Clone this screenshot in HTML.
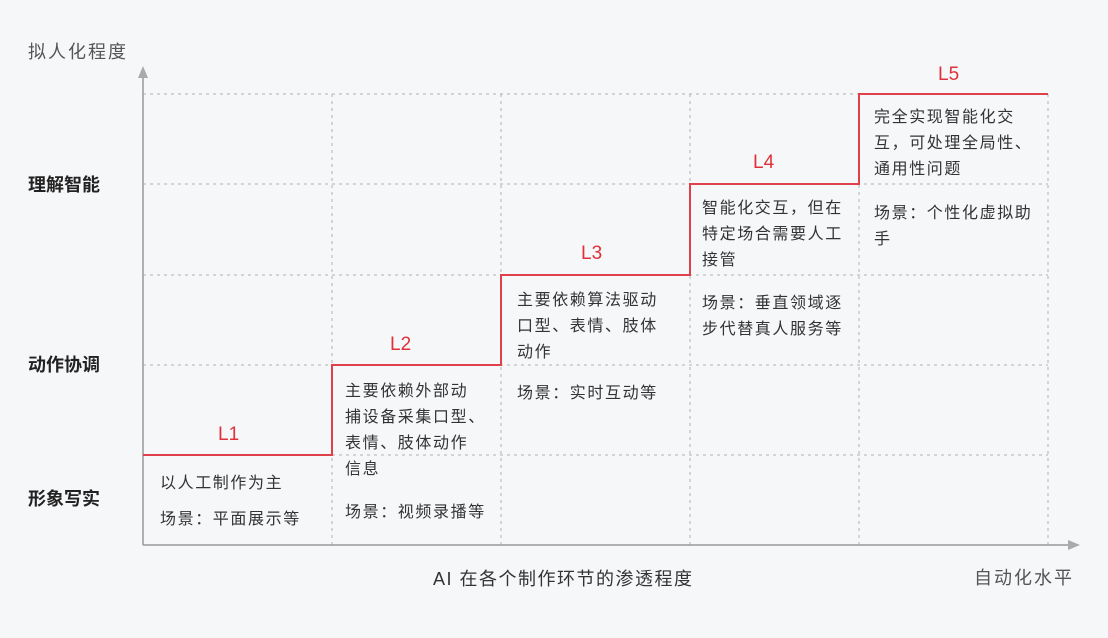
<!DOCTYPE html>
<html><head><meta charset="utf-8"><style>
body{margin:0;background:#f6f7f9;}
svg{display:block}
text{font-family:"Liberation Sans","Noto Sans CJK SC",sans-serif;}
.t{font-size:16px;fill:#333;letter-spacing:1.6px}
.y{font-size:18px;fill:#222;font-weight:bold}
.r{font-size:19px;fill:#e0303a}
</style></head><body>
<svg width="1108" height="638" viewBox="0 0 1108 638">
<rect width="1108" height="638" fill="#f6f7f9"/>
<g stroke="#b0b0b0" stroke-width="1" stroke-dasharray="3,4" fill="none">
<line x1="143" y1="94" x2="1048" y2="94"/>
<line x1="143" y1="184" x2="1048" y2="184"/>
<line x1="143" y1="275" x2="1048" y2="275"/>
<line x1="143" y1="365" x2="1048" y2="365"/>
<line x1="143" y1="455" x2="1048" y2="455"/>
<line x1="332" y1="94" x2="332" y2="545"/>
<line x1="501" y1="94" x2="501" y2="545"/>
<line x1="690" y1="94" x2="690" y2="545"/>
<line x1="859" y1="94" x2="859" y2="545"/>
<line x1="1048" y1="94" x2="1048" y2="545"/>
</g>
<g stroke="#999" stroke-width="1.5" fill="none">
<line x1="143" y1="74" x2="143" y2="545"/>
<line x1="143" y1="545" x2="1070" y2="545"/>
</g>
<polygon points="143,66 138,78 148,78" fill="#aaa"/>
<polygon points="1080,545 1068,540 1068,550" fill="#aaa"/>
<polyline points="143,455 332,455 332,365 501,365 501,275 690,275 690,184 859,184 859,94 1048,94" fill="none" stroke="#e0404a" stroke-width="2"/>
<text x="28" y="58" style="font-size:18px;fill:#555;letter-spacing:2px">拟人化程度</text>
<text x="28" y="191" class="y">理解智能</text>
<text x="28" y="371" class="y">动作协调</text>
<text x="28" y="505" class="y">形象写实</text>
<text x="433" y="585" style="font-size:18px;fill:#333;letter-spacing:1.5px">AI 在各个制作环节的渗透程度</text>
<text x="974" y="584" style="font-size:18px;fill:#555;letter-spacing:2px">自动化水平</text>
<text x="218" y="440" class="r">L1</text>
<text x="390" y="350" class="r">L2</text>
<text x="581" y="259" class="r">L3</text>
<text x="753" y="168" class="r">L4</text>
<text x="938" y="80" class="r">L5</text>
<g class="t">
<text x="160" y="488" class="t">以人工制作为主</text>
<text x="160" y="524" class="t">场景：平面展示等</text>
<text x="345" y="396" class="t">主要依赖外部动</text>
<text x="345" y="422" class="t">捕设备采集口型、</text>
<text x="345" y="448" class="t">表情、肢体动作</text>
<text x="345" y="474" class="t">信息</text>
<text x="345" y="517" class="t">场景：视频录播等</text>
<text x="517" y="305" class="t">主要依赖算法驱动</text>
<text x="517" y="331" class="t">口型、表情、肢体</text>
<text x="517" y="357" class="t">动作</text>
<text x="517" y="398" class="t">场景：实时互动等</text>
<text x="702" y="213" class="t">智能化交互，但在</text>
<text x="702" y="239" class="t">特定场合需要人工</text>
<text x="702" y="265" class="t">接管</text>
<text x="702" y="308" class="t">场景：垂直领域逐</text>
<text x="702" y="334" class="t">步代替真人服务等</text>
<text x="874" y="122" class="t">完全实现智能化交</text>
<text x="874" y="148" class="t">互，可处理全局性、</text>
<text x="874" y="174" class="t">通用性问题</text>
<text x="874" y="218" class="t">场景：个性化虚拟助</text>
<text x="874" y="244" class="t">手</text>
</g>
</svg>
</body></html>
